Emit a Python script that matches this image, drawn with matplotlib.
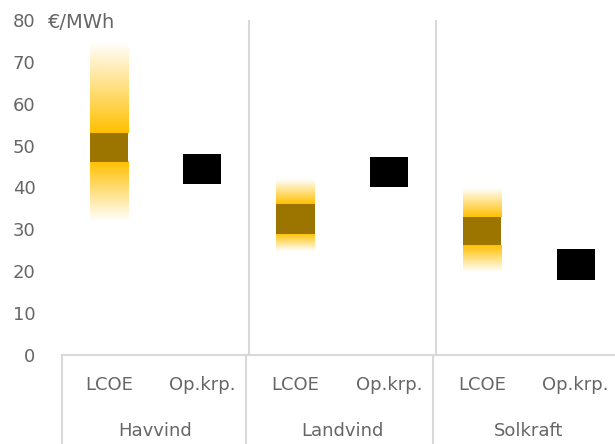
import numpy as np
import matplotlib.pyplot as plt
from matplotlib.colors import LinearSegmentedColormap
from matplotlib.transforms import blended_transform_factory

plt.rcParams['font.family'] = ['DejaVu Sans']

groups = ['Havvind', 'Landvind', 'Solkraft']
sub_labels = ['LCOE', 'Op.krp.']

# LCOE spread per technology (€/MWh)
lcoe_min = [32.0, 24.8, 19.8]
lcoe_low = [46.2, 29.0, 26.2]
lcoe_high = [52.9, 36.0, 32.9]
lcoe_max = [74.5, 41.9, 39.8]

# Operating / capture price (€/MWh)
op_price = [44.4, 43.7, 21.6]

orange = '#FFC000'
brown = '#9C7400'
grey_txt = '#666666'
grid_col = '#D9D9D9'
fs = 13

fade = LinearSegmentedColormap.from_list('fade', ['white', orange])

fig = plt.figure(figsize=(6.15, 4.44), dpi=100)
ax = fig.add_axes([62 / 615, 89 / 444, 6 * 93.4 / 615, 335 / 444])

bw = 0.41
marker_half = 3.6
ramp = np.linspace(0, 1, 256).reshape(-1, 1)

for i in range(len(groups)):
    x_lcoe = 2 * i
    x_op = 2 * i + 1
    # tails: full orange next to the core, fading to white at min / max
    ax.imshow(ramp[::-1], cmap=fade, aspect='auto', origin='lower',
              extent=(x_lcoe - bw / 2, x_lcoe + bw / 2, lcoe_high[i], lcoe_max[i]),
              vmin=0, vmax=1, zorder=2)
    ax.imshow(ramp, cmap=fade, aspect='auto', origin='lower',
              extent=(x_lcoe - bw / 2, x_lcoe + bw / 2, lcoe_min[i], lcoe_low[i]),
              vmin=0, vmax=1, zorder=2)
    ax.bar(x_lcoe, lcoe_high[i] - lcoe_low[i], bottom=lcoe_low[i], width=bw,
           color=brown, zorder=3)
    ax.bar(x_op, 2 * marker_half, bottom=op_price[i] - marker_half, width=bw,
           color='black', zorder=3)

ax.set_xlim(-0.5, 5.5)
ax.set_ylim(0, 80)
ax.set_yticks(range(0, 81, 10))
ax.set_xticks([])
ax.tick_params(axis='y', length=0, pad=19, labelsize=fs, labelcolor=grey_txt)
for s in ['top', 'right', 'left']:
    ax.spines[s].set_visible(False)
ax.spines['bottom'].set_color(grid_col)
ax.spines['bottom'].set_linewidth(1.5)

# group separators
for xs in [1.5, 3.5]:
    ax.axvline(xs, ymin=0, ymax=1, color=grid_col, lw=1.5, zorder=1)

# category axis box below the plot
tr = blended_transform_factory(ax.transData, ax.transAxes)
for xs in [-0.5, 1.47, 3.47]:
    ax.plot([xs, xs], [0, -0.27], transform=tr, color=grid_col, lw=1.5,
            clip_on=False)

for i, g in enumerate(groups):
    for j, lab in enumerate(sub_labels):
        ax.text(2 * i + j, -0.09, lab, transform=tr, ha='center', va='center',
                fontsize=fs, color=grey_txt)
    ax.text(2 * i + 0.5, -0.227, g, transform=tr, ha='center', va='center',
            fontsize=fs, color=grey_txt)

# unit label sits on the same line as the top tick
unit_tr = blended_transform_factory(fig.transFigure, ax.transData)
ax.text(48 / 615, 80, '€/MWh', transform=unit_tr, ha='left',
        va='center_baseline', fontsize=14, color=grey_txt, clip_on=False)

fig.savefig('out.png', dpi=100)
